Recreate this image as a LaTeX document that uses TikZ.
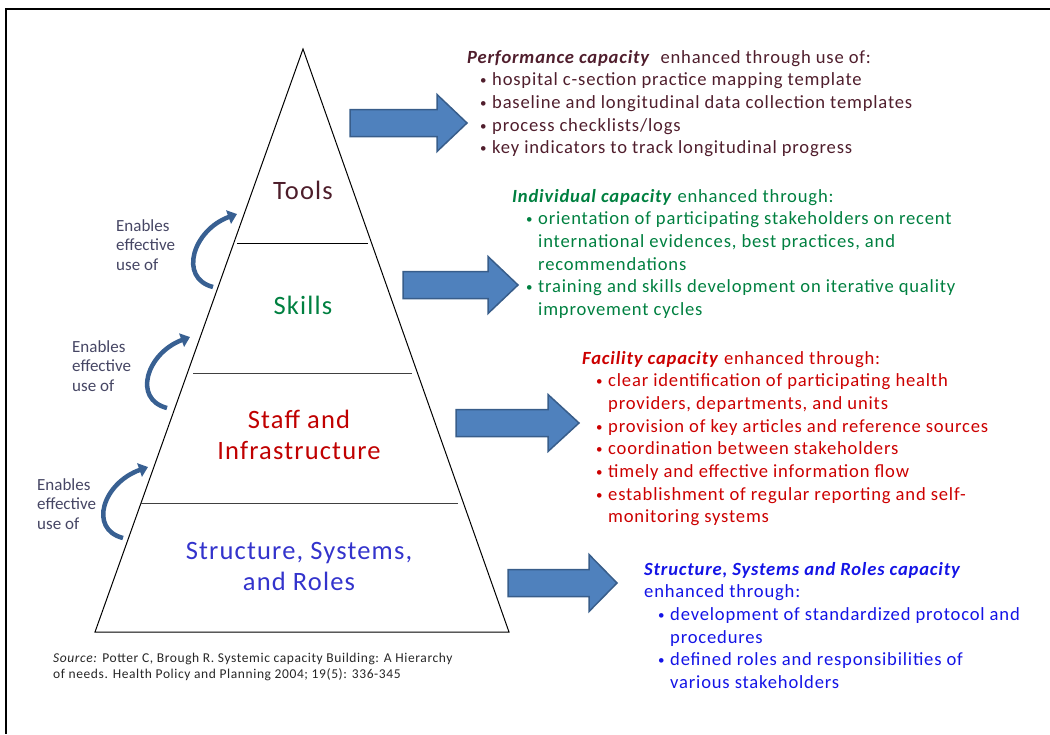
\documentclass[tikz,border=0pt]{standalone}
\usepackage{fontspec}
\setmainfont{Carlito}[LetterSpace=4.4]
\newfontfamily\enabfont{Carlito}
\usetikzlibrary{arrows.meta}
\definecolor{toolcol}{RGB}{77,29,42}
\definecolor{skillcol}{RGB}{0,128,64}
\definecolor{staffcol}{RGB}{192,0,0}
\definecolor{structcol}{RGB}{51,51,204}
\definecolor{perfcol}{RGB}{80,30,45}
\definecolor{facilcol}{RGB}{204,0,0}
\definecolor{ssrcol}{RGB}{20,20,230}
\definecolor{enabcol}{RGB}{70,70,100}
\definecolor{arrfill}{RGB}{79,129,189}
\definecolor{arrline}{RGB}{56,93,138}
\definecolor{curvecol}{RGB}{56,96,146}
\newcommand{\capbul}{\makebox[12pt][l]{\raisebox{1pt}{\fontsize{13}{13}\selectfont\textbullet}}}

\begin{document}
\begin{tikzpicture}[x=1pt, y=-1pt,
  level/.style={font=\fontsize{26.5}{31}\selectfont, align=center, anchor=base, inner sep=0},
  enab/.style={font=\enabfont\fontsize{17}{19.3}\selectfont, text=enabcol, align=left, anchor=base west, inner sep=0},
  blockarr/.style={fill=arrfill, draw=arrline, line width=1.5pt, line join=miter},
  curvearr/.style={draw=curvecol, line width=4.5pt, -{Triangle[width=14pt,length=9pt]}},
  capbox/.style={font=\fontsize{18.6}{22.7}\selectfont, anchor=base west, inner sep=0}]
   \useasboundingbox (0,0) rectangle (1050,734);
   \draw[line width=2pt] (1050,9) -- (6,9) -- (6,734);
   % pyramid
   \draw[line width=1pt] (95,632) -- (303,49) -- (509,632) -- cycle;
   \draw (237,243) -- (368,243);
   \draw[black!75] (193,373) -- (412,373);
   \draw[black!75] (140,503) -- (458,503);
   \node[level, text=toolcol] (tools) at (303,199) {Tools};
   \node[level, text=skillcol] (skills) at (303,314) {Skills};
   \node[level, text=staffcol] (staff) at (299,459) {Staff and\\Infrastructure};
   \node[level, text=structcol] (struct) at (299,590) {Structure, Systems,\\and Roles};
   % enables arrows
   \foreach \bx/\by/\tx/\ty/\lx/\ly [count=\i] in {213/287/237/214/116/270, 167/408/190/337/72/391, 123/538/148/467/37/529} {
     \draw[curvearr] (\bx,\by) .. controls (\bx-35,\by-9) and (\bx-20,\ty+16) .. (\tx,\ty);
     \node[enab] (enab\i) at (\lx,\ly) {Enables\\effective\\use of};
   }
   % block arrows
   \foreach \xa/\xh/\xt/\yc in {350/437/467/123, 403/488/518/285, 456/548/579/423, 508/589/617/583}
     \draw[blockarr] (\xa,\yc-13.5) -- (\xh,\yc-13.5) -- (\xh,\yc-28.5) -- (\xt,\yc)
       -- (\xh,\yc+28.5) -- (\xh,\yc+13.5) -- (\xa,\yc+13.5) -- cycle;
   % capacity texts
   \node[capbox, text=perfcol] (perf) at (467,63) {\begin{tabular}[t]{@{\hspace{13pt}}l@{}l@{}}
     \multicolumn{2}{@{}l@{}}{\textbf{\textit{Performance capacity}}\ \ enhanced through use of:}\\
     \capbul & hospital c-section practice mapping template\\
     \capbul & baseline and longitudinal data collection templates\\
     \capbul & process checklists/logs\\
     \capbul & key indicators to track longitudinal progress
   \end{tabular}};
   \node[capbox, text=skillcol] (indiv) at (512,202) {\begin{tabular}[t]{@{\hspace{14pt}}l@{}l@{}}
     \multicolumn{2}{@{}l@{}}{\textbf{\textit{Individual capacity}} enhanced through:}\\
     \capbul & orientation of participating stakeholders on recent\\
     & international evidences, best practices, and\\
     & recommendations\\
     \capbul & training and skills development on iterative quality\\
     & improvement cycles
   \end{tabular}};
   \node[capbox, text=facilcol] (facil) at (582,364) {\begin{tabular}[t]{@{\hspace{14pt}}l@{}l@{}}
     \multicolumn{2}{@{}l@{}}{\textbf{\textit{Facility capacity}} enhanced through:}\\
     \capbul & clear identification of participating health\\
     & providers, departments, and units\\
     \capbul & provision of key articles and reference sources\\
     \capbul & coordination between stakeholders\\
     \capbul & timely and effective information flow\\
     \capbul & establishment of regular reporting and self-\\
     & monitoring systems
   \end{tabular}};
   \node[capbox, text=ssrcol] (ssr) at (644,575) {\begin{tabular}[t]{@{\hspace{14pt}}l@{}l@{}}
     \multicolumn{2}{@{}l@{}}{\textbf{\textit{Structure, Systems and Roles capacity}}}\\
     \multicolumn{2}{@{}l@{}}{enhanced through:}\\
     \capbul & development of standardized protocol and\\
     & procedures\\
     \capbul & defined roles and responsibilities of\\
     & various stakeholders
   \end{tabular}};
   \node[anchor=base west, inner sep=0, align=left, text=black!85, font=\fontsize{13.5}{15.5}\selectfont] (source) at (53,678)
     {\textit{Source:} Potter C, Brough R. Systemic capacity Building: A Hierarchy\\of needs. Health Policy and Planning 2004; 19(5): 336-345};
\end{tikzpicture}
\end{document}
